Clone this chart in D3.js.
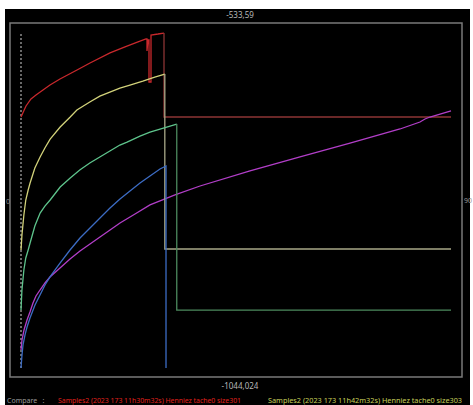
<!DOCTYPE html>
<html><head><meta charset="utf-8">
<script src="https://cdn.jsdelivr.net/npm/d3@7"></script>
<style>body{margin:0;background:#fff}svg{display:block}</style>
</head><body>
<script>
// Axis extents / labels
const yTop = -533.59, yBottom = -1044.024;
const xMin = 0, xMax = 90;
const topLabel = "-533,59", bottomLabel = "-1044,024";
const leftLabel = "0", rightLabel = "90";
const legendPrefix = "Compare   :";
const seriesNames = [
  "Samples2 (2023 173 11h30m32s) Henniez tache0 size301",
  "Samples2 (2023 173 11h42m32s) Henniez tache0 size303"
];

// Series (x = time, y = value)
const redX = [0,1.05,2.09,3.14,4.60,6.07,8.16,11.72,14.44,18.63,21.77,24.49,26.16,26.37,26.37,26.58,26.79,26.79,27.21,27.21,28.67,29.93,29.93,90];
const redY = [-659.7,-642.9,-632.3,-626.2,-618.6,-611.0,-601.9,-588.3,-577.6,-562.4,-553.3,-545.7,-541.2,-541.2,-559.4,-542.7,-542.7,-606.5,-606.5,-535.1,-533.6,-532.1,-659.7,-659.7];
const yelX = [0,0.2,0.6,1.0,1.5,1.9,2.9,4.0,5.0,6.1,8.2,10.3,11.7,14.4,16.5,18.6,20.7,22.8,25.5,28.0,30.1,30.1,90];
const yelY = [-861.7,-838.9,-808.6,-785.8,-770.6,-760.0,-737.2,-720.5,-706.8,-693.2,-674.9,-659.7,-649.1,-637.0,-627.9,-621.8,-615.7,-611.2,-605.1,-599.0,-594.5,-860.2,-860.2];
const grnX = [0,0.2,0.6,1.0,1.5,1.9,2.9,4.0,5.0,6.1,8.2,10.3,12.3,14.4,16.5,18.6,20.7,22.2,24.9,27.0,29.1,31.2,32.6,32.6,90];
const grnY = [-952.9,-922.5,-892.1,-873.9,-861.7,-851.1,-825.3,-805.6,-795.0,-785.8,-766.1,-752.4,-740.3,-729.6,-720.5,-711.4,-702.3,-697.8,-688.6,-682.6,-678.0,-673.5,-670.5,-953.0,-953.0];
const bluX = [0,0.21,0.42,0.84,1.26,1.88,2.93,3.98,5.02,6.07,8.16,10.26,12.35,14.44,16.53,18.63,20.72,22.81,24.91,27.0,29.09,30.35,30.35];
const bluY = [-1041.0,-1021.2,-1006.0,-990.8,-978.7,-965.0,-945.3,-930.1,-914.9,-902.7,-881.5,-861.7,-843.5,-828.3,-813.1,-797.9,-784.2,-772.1,-759.9,-749.3,-738.6,-734.1,-1041.0];
const magX = [0,0.21,0.63,1.26,1.88,2.51,3.14,3.98,5.02,6.07,8.16,10.26,12.35,14.44,16.53,18.63,20.72,23.86,27.0,32.23,37.47,47.93,58.40,68.86,79.33,83.51,84.56,85.6,90];
const magY = [-1013.6,-998.4,-983.3,-968.1,-955.9,-942.2,-931.6,-922.5,-911.8,-902.7,-889.0,-875.4,-863.2,-852.6,-842.0,-831.3,-820.7,-807.0,-793.3,-778.1,-764.5,-741.7,-720.4,-699.2,-677.9,-667.3,-662.7,-659.7,-650.5];

const series = [
  {x: redX, y: redY, color: "#c8282c", tailColor: "#8c3434", tailFrom: 22},
  {x: magX, y: magY, color: "#b23ec8"},
  {x: yelX, y: yelY, color: "#d2d27a", tailColor: "#a8a888", tailFrom: 21},
  {x: grnX, y: grnY, color: "#5ec48c", tailColor: "#4c8a5e", tailFrom: 23},
  {x: bluX, y: bluY, color: "#3c6cc4"}
];

const W = 473, H = 405;
const svg = d3.select("body").append("svg").attr("width", W).attr("height", H);
svg.append("rect").attr("x", 5).attr("y", 9).attr("width", 465).attr("height", 396).attr("fill", "#000");

const x = d3.scaleLinear().domain([xMin, xMax]).range([21, 451]);
const y = d3.scaleLinear().domain([yBottom, yTop]).range([370, 34]);

// frame
svg.append("rect").attr("x", 10).attr("y", 23).attr("width", 452).attr("height", 354)
  .attr("fill", "none").attr("stroke", "#7a7a7a").attr("stroke-width", 1.5);

// dotted axis
svg.append("line").attr("x1", x(0)).attr("x2", x(0)).attr("y1", y(yTop)).attr("y2", y(yBottom))
  .attr("stroke", "#8a8a8a").attr("stroke-width", 1.5).attr("stroke-dasharray", "2,2");

const line = d3.line().x(d => x(d[0])).y(d => y(d[1]));
series.forEach(s => {
  const pts = s.x.map((v, i) => [v, s.y[i]]);
  const end = s.tailFrom != null ? s.tailFrom : pts.length;
  svg.append("path").attr("d", line(pts.slice(0, end)))
    .attr("fill", "none").attr("stroke", s.color).attr("stroke-width", 1.3);
  if (s.tailFrom != null) {
    svg.append("path").attr("d", line(pts.slice(end - 1)))
      .attr("fill", "none").attr("stroke", s.tailColor).attr("stroke-width", 1.3);
  }
});

const font = "'Noto Sans', 'DejaVu Sans', sans-serif";
svg.append("text").attr("x", 240).attr("y", 18).attr("text-anchor", "middle")
  .attr("fill", "#b8b8b8").attr("font-size", 8).attr("font-family", font).text(topLabel);
svg.append("text").attr("x", 240).attr("y", 389).attr("text-anchor", "middle")
  .attr("fill", "#b8b8b8").attr("font-size", 8).attr("font-family", font).text(bottomLabel);
svg.append("text").attr("x", 6).attr("y", 204)
  .attr("fill", "#888").attr("font-size", 7).attr("font-family", font).text(leftLabel);
svg.append("text").attr("x", 464).attr("y", 203)
  .attr("fill", "#999").attr("font-size", 7).attr("font-family", font).text(rightLabel);

svg.append("text").attr("x", 7).attr("y", 403).attr("fill", "#9a9a9a")
  .attr("font-size", 7).attr("font-family", font).attr("xml:space", "preserve").text(legendPrefix);
svg.append("text").attr("x", 58).attr("y", 403).attr("fill", "#e0201c")
  .attr("font-size", 7).attr("font-family", font).attr("textLength", 183).attr("lengthAdjust", "spacingAndGlyphs").text(seriesNames[0]);
svg.append("text").attr("x", 268).attr("y", 403).attr("fill", "#c8d05a")
  .attr("font-size", 7).attr("font-family", font).attr("textLength", 194).attr("lengthAdjust", "spacingAndGlyphs").text(seriesNames[1]);
</script>
</body></html>
